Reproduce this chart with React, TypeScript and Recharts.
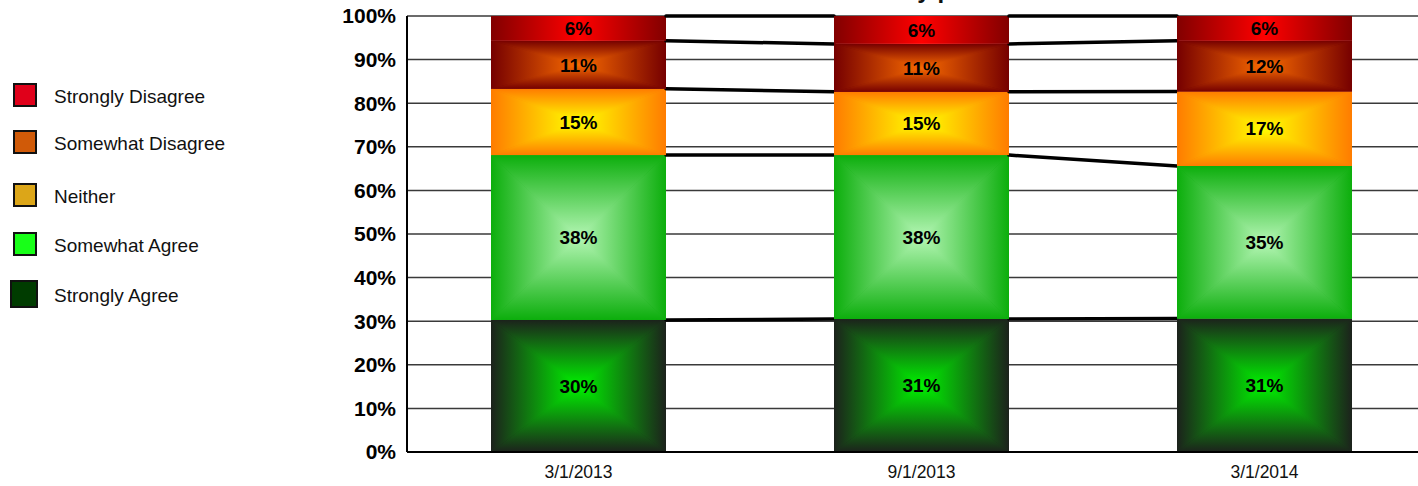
import React from 'react'
import { BarChart, Bar, XAxis, YAxis, CartesianGrid, LabelList } from 'recharts'

// survey periods on the x axis
const periods = ['3/1/2013', '9/1/2013', '3/1/2014']

// share of responses per period, in percent (bottom to top of each stack)
const stronglyAgree = [30.3, 30.5, 30.6]
const somewhatAgree = [37.8, 37.6, 35.0]
const neither = [15.2, 14.5, 17.1]
const somewhatDisagree = [11.0, 11.0, 11.6]
const stronglyDisagree = [5.7, 6.4, 5.7]

const yTicks = [0, 10, 20, 30, 40, 50, 60, 70, 80, 90, 100]

const FONT = '"Liberation Sans", Arial, sans-serif'
const CHART_W = 1436
const CHART_H = 486
const Y_AXIS_W = 407
const X_AXIS_H = 34
const TOP = 16
const STEP = (CHART_W - Y_AXIS_W) / periods.length

interface Series {
  key: string
  name: string
  values: number[]
  edge: string
  center: string
  swatch: string
  flat?: boolean
}

const series: Series[] = [
  { key: 'sa', name: 'Strongly Agree', values: stronglyAgree, edge: '#1c221c', center: '#00f200', swatch: '#003c00' },
  { key: 'swa', name: 'Somewhat Agree', values: somewhatAgree, edge: '#0cae0c', center: '#b4f6b4', swatch: '#18ff18' },
  { key: 'n', name: 'Neither', values: neither, edge: '#ff7c00', center: '#ffff00', swatch: '#dca618' },
  { key: 'swd', name: 'Somewhat Disagree', values: somewhatDisagree, edge: '#760000', center: '#f86a00', swatch: '#d05a08' },
  { key: 'sd', name: 'Strongly Disagree', values: stronglyDisagree, edge: '#820000', center: '#ff0000', swatch: '#e0001a', flat: true }
]

const data = periods.map((period, i) => {
  const row: Record<string, any> = { period }
  series.forEach(s => { row[s.key] = s.values[i] })
  return row
})

const legendRows = [
  { key: 'sd', top: 83, size: 24 },
  { key: 'swd', top: 130, size: 24 },
  { key: 'n', top: 183, size: 24 },
  { key: 'swa', top: 232, size: 24 },
  { key: 'sa', top: 280, size: 28 }
]

function gradientDefs() {
  return series.map(s => {
    const stops = [
      <stop key="0" offset="0%" stopColor={s.edge} />,
      <stop key="1" offset="100%" stopColor={s.center} />
    ]
    return (
      <React.Fragment key={s.key}>
        <linearGradient id={`${s.key}-l`} x1="0" y1="0" x2="1" y2="0">{stops}</linearGradient>
        <linearGradient id={`${s.key}-r`} x1="1" y1="0" x2="0" y2="0">{stops}</linearGradient>
        <linearGradient id={`${s.key}-t`} x1="0" y1="0" x2="0" y2="1">{stops}</linearGradient>
        <linearGradient id={`${s.key}-b`} x1="0" y1="1" x2="0" y2="0">{stops}</linearGradient>
        <radialGradient id={`${s.key}-c`} cx="0.5" cy="0.5" r="0.6">
          <stop offset="0%" stopColor={s.center} />
          <stop offset="100%" stopColor={s.edge} />
        </radialGradient>
        <linearGradient id={`${s.key}-h`} x1="0" y1="0" x2="1" y2="0">
          <stop offset="0%" stopColor={s.edge} />
          <stop offset="50%" stopColor={s.center} />
          <stop offset="100%" stopColor={s.edge} />
        </linearGradient>
      </React.Fragment>
    )
  })
}

// each stacked segment: rectangle gradient + connector line to the next bar
function makeShape(idx: number) {
  const s = series[idx]
  return (props: any) => {
    const { x, y, width: w, height: h, index } = props
    if (!h || h <= 0) return <g />
    const ppu = h / s.values[index]
    const below = series.slice(0, idx).reduce((a, t) => a + t.values[index], 0)
    const baseY = y + h + below * ppu
    const cx = x + w / 2
    const cy = y + h / 2

    let body
    if (s.flat) {
      body = <rect x={x} y={y} width={w} height={h} fill={`url(#${s.key}-h)`} />
    } else {
      body = (
        <g>
          <rect x={x} y={y} width={w} height={h} fill={`url(#${s.key}-c)`} />
          <polygon points={`${x},${y} ${cx},${cy} ${x},${y + h}`} fill={`url(#${s.key}-l)`} />
          <polygon points={`${x + w},${y} ${cx},${cy} ${x + w},${y + h}`} fill={`url(#${s.key}-r)`} />
          <polygon points={`${x},${y} ${x + w},${y} ${cx},${cy}`} fill={`url(#${s.key}-t)`} />
          <polygon points={`${x},${y + h} ${x + w},${y + h} ${cx},${cy}`} fill={`url(#${s.key}-b)`} />
        </g>
      )
    }

    let connector = null
    if (index < periods.length - 1) {
      const nextTop = series.slice(0, idx + 1).reduce((a, t) => a + t.values[index + 1], 0)
      connector = (
        <line
          x1={x + w}
          y1={y}
          x2={x + STEP}
          y2={baseY - nextTop * ppu}
          stroke="#000"
          strokeWidth={3.5}
          strokeLinecap="round"
        />
      )
    }

    return (
      <g>
        {body}
        {connector}
      </g>
    )
  }
}

export default function App() {
  return (
    <div
      style={{
        position: 'absolute',
        left: 0,
        top: 0,
        width: 1418,
        height: 486,
        overflow: 'hidden',
        background: '#fff',
        fontFamily: FONT
      }}
    >
      <div
        style={{
          position: 'absolute',
          left: 760,
          top: -22,
          fontSize: 24,
          lineHeight: '24px',
          fontWeight: 'bold',
          whiteSpace: 'nowrap',
          color: '#111'
        }}
      >
        Satisfaction by period
      </div>

      {legendRows.map(r => {
        const s = series.find(t => t.key === r.key)!
        return (
          <div key={r.key}>
            <div
              style={{
                position: 'absolute',
                left: r.size > 24 ? 10 : 13,
                top: r.top,
                width: r.size,
                height: r.size,
                boxSizing: 'border-box',
                border: '2.5px solid #111',
                background: s.swatch
              }}
            />
            <div
              style={{
                position: 'absolute',
                left: 54,
                top: r.top + r.size / 2 - 9,
                fontSize: 19,
                lineHeight: '22px',
                color: '#111',
                whiteSpace: 'nowrap'
              }}
            >
              {s.name}
            </div>
          </div>
        )
      })}

      <div style={{ position: 'absolute', left: 0, top: 0 }}>
        <BarChart
          width={CHART_W}
          height={CHART_H}
          data={data}
          margin={{ top: TOP, right: 0, bottom: 0, left: 0 }}
        >
          <defs>{gradientDefs()}</defs>
          <CartesianGrid vertical={false} stroke="#3a3a3a" strokeWidth={1.5} />
          <XAxis
            dataKey="period"
            height={X_AXIS_H}
            tickLine={false}
            tickMargin={8}
            axisLine={{ stroke: '#000', strokeWidth: 2 }}
            tick={{ fill: '#111', fontSize: 17.5, fontFamily: FONT }}
          />
          <YAxis
            width={Y_AXIS_W}
            domain={[0, 100]}
            ticks={yTicks}
            interval={0}
            tickLine={false}
            tickMargin={5}
            tickFormatter={(v: number) => `${v}%`}
            axisLine={{ stroke: '#000', strokeWidth: 2 }}
            tick={{ fill: '#000', fontSize: 21, fontWeight: 'bold', fontFamily: FONT }}
          />
          {series.map((s, i) => (
            <Bar
              key={s.key}
              dataKey={s.key}
              name={s.name}
              stackId="a"
              barSize={175}
              fill={s.swatch}
              shape={makeShape(i)}
              isAnimationActive={false}
            >
              <LabelList
                dataKey={s.key}
                position="center"
                formatter={(v: any) => `${Math.round(Number(v))}%`}
                fill="#000"
                fontSize={19}
                fontWeight="bold"
                fontFamily={FONT}
              />
            </Bar>
          ))}
        </BarChart>
      </div>
    </div>
  )
}
